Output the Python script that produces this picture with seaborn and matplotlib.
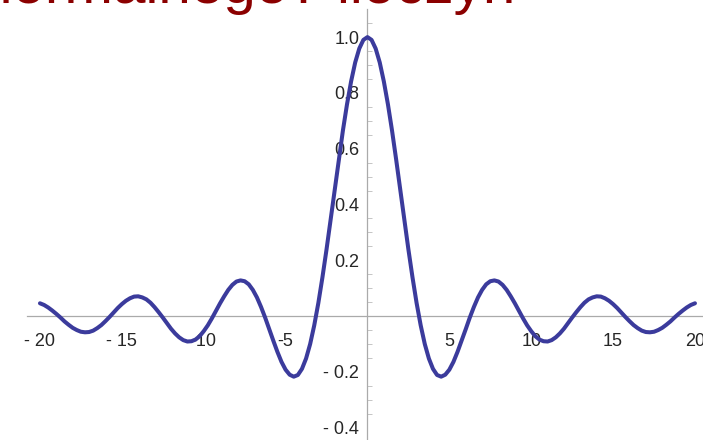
import numpy as np
import pandas as pd
import seaborn as sns
import matplotlib.pyplot as plt

# curve, x from -20 to 20 in steps of 0.25
x_vals = np.linspace(-20, 20, 161)
y_vals = [
    0.046, 0.040, 0.031, 0.020, 0.008, -0.005, -0.019, -0.031, -0.042, -0.050,
    -0.056, -0.058, -0.057, -0.052, -0.043, -0.032, -0.018, -0.003, 0.013, 0.029,
    0.043, 0.055, 0.064, 0.070, 0.071, 0.067, 0.060, 0.048, 0.032, 0.014,
    -0.005, -0.025, -0.045, -0.062, -0.076, -0.086, -0.091, -0.090, -0.084, -0.072,
    -0.054, -0.033, -0.008, 0.019, 0.046, 0.071, 0.094, 0.112, 0.124, 0.128,
    0.125, 0.114, 0.094, 0.067, 0.033, -0.005, -0.047, -0.088, -0.128, -0.164,
    -0.192, -0.210, -0.217, -0.211, -0.189, -0.152, -0.100, -0.033, 0.047, 0.139,
    0.239, 0.346, 0.455, 0.562, 0.665, 0.759, 0.841, 0.909, 0.959, 0.990,
    1.000,
    0.990, 0.959, 0.909, 0.841, 0.759, 0.665, 0.562, 0.455, 0.346, 0.239,
    0.139, 0.047, -0.033, -0.100, -0.152, -0.189, -0.211, -0.217, -0.210, -0.192,
    -0.164, -0.128, -0.088, -0.047, -0.005, 0.033, 0.067, 0.094, 0.114, 0.125,
    0.128, 0.124, 0.112, 0.094, 0.071, 0.046, 0.019, -0.008, -0.033, -0.054,
    -0.072, -0.084, -0.090, -0.091, -0.086, -0.076, -0.062, -0.045, -0.025, -0.005,
    0.014, 0.032, 0.048, 0.060, 0.067, 0.071, 0.070, 0.064, 0.055, 0.043,
    0.029, 0.013, -0.003, -0.018, -0.032, -0.043, -0.052, -0.057, -0.058, -0.056,
    -0.050, -0.042, -0.031, -0.019, -0.005, 0.008, 0.020, 0.031, 0.040, 0.046,
]

x_ticks = [-20, -15, -10, -5, 5, 10, 15, 20]
x_labels = ["- 20", "- 15", "-10", "-5", "5", "10", "15", "20"]
y_ticks = [-0.4, -0.2, 0.2, 0.4, 0.6, 0.8, 1.0]
y_labels = ["- 0.4", "- 0.2", "0.2", "0.4", "0.6", "0.8", "1.0"]
title_text = "normalnego? iloczyn"

df = pd.DataFrame({"x": x_vals, "y": y_vals})

sns.set_style("white")
plt.rcParams['font.family'] = ['Liberation Sans', 'DejaVu Sans']

fig = plt.figure(figsize=(7.03, 4.40), dpi=100)
ax = fig.add_axes([0, 0, 1, 1])

sns.lineplot(data=df, x="x", y="y", color="#3b3b9c", linewidth=2.9, ax=ax, zorder=5)
ax.lines[0].set_solid_joinstyle('round')
ax.lines[0].set_solid_capstyle('round')

ax.set_xlim(-22.44, 20.49)
ax.set_ylim(-0.444, 1.133)

ax.spines['left'].set_position(('data', 0))
ax.spines['bottom'].set_position(('data', 0))
ax.spines['right'].set_visible(False)
ax.spines['top'].set_visible(False)
ax.spines['left'].set_bounds(-0.444, 1.10)
ax.spines['bottom'].set_bounds(-20.8, 20.49)
for s in ['left', 'bottom']:
    ax.spines[s].set_color("#aaaaaa")
    ax.spines[s].set_linewidth(0.9)

ax.set_xticks(x_ticks)
ax.set_xticklabels(x_labels)
ax.set_yticks(y_ticks)
ax.set_yticklabels(y_labels)
ax.set_yticks(np.arange(-0.4, 1.1, 0.05), minor=True)
ax.tick_params(axis='x', direction='in', length=5, color="#999999", pad=12, labelsize=13)
ax.tick_params(axis='y', which='major', direction='in', length=6, color="#999999", pad=6, labelsize=13)
ax.tick_params(axis='y', which='minor', direction='in', length=3.5, color="#bbbbbb", left=True)
ax.set_xlabel("")
ax.set_ylabel("")
ax.patch.set_alpha(0)

fig.text(515 / 703, 1 - 3 / 440, title_text, ha='right', va='baseline',
         fontsize=42, color="#8b0000")

fig.savefig("out.png", dpi=100)
